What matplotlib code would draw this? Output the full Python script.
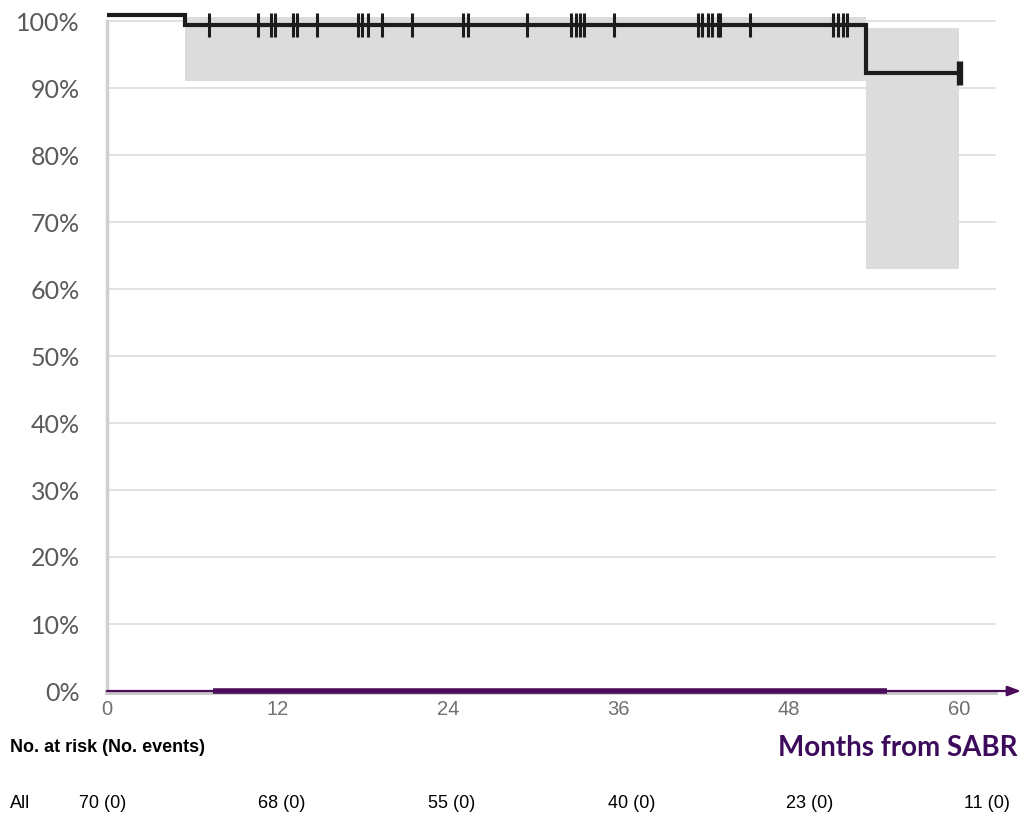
import matplotlib
matplotlib.use("Agg")
import matplotlib.pyplot as plt
from matplotlib import font_manager

# survival step curve (months, %)
step_t = [0, 5.5, 53.45, 60]
step_s = [100.9, 99.4, 92.2, 92.2]
# confidence bands: (start, end, lower, upper)
band_start = [5.5, 53.45]
band_end = [53.45, 60]
band_low = [91.0, 63.0]
band_high = [100.6, 99.0]
# censored times
censor_t = [7.2, 10.6, 11.55, 11.8, 13.1, 13.4, 14.8, 17.7, 17.95, 18.4, 19.4, 21.5,
            25.1, 25.4, 29.6, 32.7, 33.0, 33.3, 33.6, 35.7,
            41.6, 41.9, 42.3, 42.6, 43.0, 43.2, 45.3, 51.1, 51.5, 51.8, 52.1]
censor_end = [59.9, 60.15]

xticks = [0, 12, 24, 36, 48, 60]
yticks = list(range(0, 101, 10))
risk_labels = ["70 (0)", "68 (0)", "55 (0)", "40 (0)", "23 (0)", "11 (0)"]

names = {f.name for f in font_manager.fontManager.ttflist}
narrow = "Liberation Sans Narrow" if "Liberation Sans Narrow" in names else "Liberation Sans"
light = "Lato" if "Lato" in names else "DejaVu Sans"

W, H = 1029, 814
fig = plt.figure(figsize=(W / 100, H / 100), dpi=100)
ax_l, ax_r = 107, 1020
ppm = (959 - 107) / 60.0
ppy = 6.7
ylo, yhi = -1, 102
ax_b = 691 + (0 - ylo) * ppy
ax_t = 691 - yhi * ppy
ax = fig.add_axes([ax_l / W, 1 - ax_b / H, (ax_r - ax_l) / W, (ax_b - ax_t) / H])
ax.set_xlim(0, (ax_r - ax_l) / ppm)
ax.set_ylim(ylo, yhi)
for s in ax.spines.values():
    s.set_visible(False)

# gridlines
for y in yticks[1:]:
    ax.plot([0, (995 - 107) / ppm], [y, y], color="#dcdcdc", lw=1.2, zorder=1)
ax.plot([0, 0], [0, 100], color="#d0d0d0", lw=2.5, zorder=1, clip_on=False)

# bands
for a, b, lo, hi in zip(band_start, band_end, band_low, band_high):
    ax.fill_between([a, b], lo, hi, color="#dcdcdc", lw=0, zorder=2)

# curve
ax.step(step_t, step_s, where="post", color="#1c1c1c", lw=3, zorder=4, solid_joinstyle="miter")
ax.plot(censor_t, [99.4] * len(censor_t), ls="none", marker="|", ms=17, mew=2.2,
        color="#1c1c1c", zorder=5)
ax.plot(censor_end, [92.2] * len(censor_end), ls="none", marker="|", ms=17, mew=2.4,
        color="#1c1c1c", zorder=5)

# x axis with arrow
ax.plot([0, (995 - 107) / ppm], [-0.2, -0.2], color="#c8c8c8", lw=3.5, zorder=3, clip_on=False)
ax.plot([(213 - 107) / ppm, (887 - 107) / ppm], [0, 0], color="#4b0c5c", lw=4, zorder=4,
        clip_on=False, solid_capstyle="butt")
ax.annotate("", xy=((1021 - 107) / ppm, 0), xytext=(0, 0),
            arrowprops=dict(arrowstyle="-|>,head_length=0.8,head_width=0.3", color="#4b0c5c",
                            lw=1.6, shrinkA=0, shrinkB=0), annotation_clip=False, zorder=5)

ax.set_xticks(xticks)
ax.set_xticklabels([str(x) for x in xticks], family=narrow, fontsize=14.5, color="#707070")
ax.set_yticks(yticks)
ax.set_yticklabels([f"{y}%" for y in yticks], family=light, fontsize=18, color="#5a5a5a")
ax.tick_params(length=0, axis="x", pad=2)
ax.tick_params(length=0, axis="y", pad=19.5)

fig.text(10 / W, 1 - 748 / H, "No. at risk (No. events)", fontsize=13, weight="bold",
         family="Liberation Sans", va="center", ha="left", color="black")
fig.text(1017 / W, 1 - 748 / H, "Months from SABR", fontsize=20, weight="bold",
         family=light, va="center", ha="right", color="#3d0b5c")
fig.text(10 / W, 1 - 803 / H, "All", fontsize=13, family=narrow, va="center", ha="left")
risk_x = [103, 282, 452, 632, 810, 987]
for x, lab in zip(risk_x, risk_labels):
    fig.text(x / W, 1 - 803 / H, lab, fontsize=13, family=narrow, va="center", ha="center")

fig.savefig("out.png", dpi=100)
